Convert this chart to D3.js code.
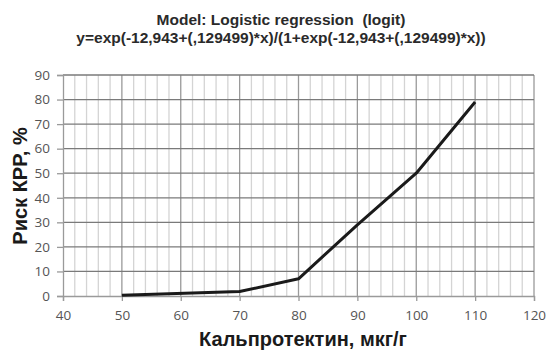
<!DOCTYPE html>
<html lang="ru">
  <head>
    <meta charset="UTF-8">
    <title>Logistic regression</title>
    <style>
    * { box-sizing: border-box; margin: 0; padding: 0; }
    body { background: #fff; }
    svg { display: block; }
    .title { font: bold 15.5px "Liberation Sans", Arial, sans-serif; fill: #2a2a2a; }
    .axis-label { font: bold 20px "Liberation Sans", Arial, sans-serif; fill: #1a1a1a; }
    .tick text { font: 13.5px "Open Sans", sans-serif; fill: #555; }
    </style>
  </head>
  <body>
    <svg width="550" height="351"></svg>
    <script src="https://d3js.org/d3.v7.min.js"></script>
    <script>
      // values
      const calprotectin = [50, 70, 80, 90, 100, 110];
      const risk = [0.3, 1.8, 7, 29, 50, 79];
      const xTicks = [40, 50, 60, 70, 80, 90, 100, 110, 120];
      const yTicks = [0, 10, 20, 30, 40, 50, 60, 70, 80, 90];
      const titleLines = [
        "Model: Logistic regression\u00a0\u00a0(logit)",
        "y=exp(-12,943+(,129499)*x)/(1+exp(-12,943+(,129499)*x))"
      ];

      const margin = { top: 75, right: 16, bottom: 55, left: 63 };
      const width = 550 - margin.left - margin.right;
      const height = 351 - margin.top - margin.bottom;

      const svg = d3.select("svg");

      svg.selectAll(".title")
        .data(titleLines)
        .enter().append("text")
        .attr("class", "title")
        .attr("x", 281)
        .attr("y", (d, i) => 25 + i * 17.5)
        .attr("text-anchor", "middle")
        .text(d => d);

      const g = svg.append("g")
        .attr("transform", `translate(${margin.left},${margin.top})`);

      const x = d3.scaleLinear().domain([40, 120]).range([0, width]);
      const y = d3.scaleLinear().domain([0, 90]).range([height, 0]);

      // minor vertical grid every 2
      g.append("g")
        .selectAll("line")
        .data(d3.range(40, 121, 2).filter(v => v % 10 !== 0))
        .enter().append("line")
        .attr("x1", d => x(d)).attr("x2", d => x(d))
        .attr("y1", 0).attr("y2", height)
        .attr("stroke", "#d4d4d4").attr("stroke-width", 1.3);

      // major vertical grid
      g.append("g")
        .selectAll("line")
        .data(xTicks.slice(1))
        .enter().append("line")
        .attr("x1", d => x(d)).attr("x2", d => x(d))
        .attr("y1", 0).attr("y2", height)
        .attr("stroke", "#9a9a9a").attr("stroke-width", 1.3);

      // horizontal grid
      g.append("g")
        .selectAll("line")
        .data(yTicks.slice(1))
        .enter().append("line")
        .attr("x1", 0).attr("x2", width)
        .attr("y1", d => y(d)).attr("y2", d => y(d))
        .attr("stroke", "#7a7a7a").attr("stroke-width", 1.3);

      const xAxis = g.append("g")
        .attr("transform", `translate(0,${height})`)
        .call(d3.axisBottom(x).tickValues(xTicks).tickSize(5).tickPadding(9));
      const yAxis = g.append("g")
        .call(d3.axisLeft(y).tickValues(yTicks).tickSize(6).tickPadding(7));

      [xAxis, yAxis].forEach(a => {
        a.select(".domain").attr("stroke", "#9a9a9a").attr("stroke-width", 1.3);
        a.selectAll(".tick line").attr("stroke", "#9a9a9a").attr("stroke-width", 1.3);
      });

      const line = d3.line()
        .x((d, i) => x(calprotectin[i]))
        .y(d => y(d));

      g.append("path")
        .datum(risk)
        .attr("fill", "none")
        .attr("stroke", "#1a1a1a")
        .attr("stroke-width", 3)
        .attr("stroke-linejoin", "round")
        .attr("d", line);

      svg.append("text")
        .attr("class", "axis-label")
        .attr("x", 303)
        .attr("y", 346)
        .attr("text-anchor", "middle")
        .text("Кальпротектин, мкг/г");

      svg.append("text")
        .attr("class", "axis-label")
        .attr("transform", `translate(27,186) rotate(-90)`)
        .attr("text-anchor", "middle")
        .text("Риск КРР, %");
    </script>
  </body>
</html>
